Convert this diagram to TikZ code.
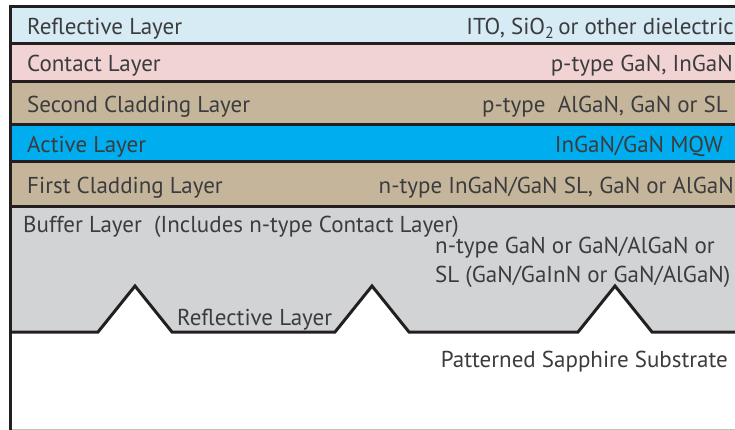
\documentclass[tikz,border=0pt]{standalone}
\usepackage{fontspec}
\setmainfont{PT Sans}
\usetikzlibrary{positioning}
\definecolor{reflectColor}{RGB}{214,235,243}
\definecolor{contactColor}{RGB}{241,211,211}
\definecolor{claddingColor}{RGB}{197,182,155}
\definecolor{activeColor}{RGB}{0,173,238}
\definecolor{bufferColor}{RGB}{210,211,213}
\definecolor{lineColor}{RGB}{35,31,32}
\definecolor{textColor}{RGB}{60,60,62}
\tikzstyle{stack} = [x = 1pt, y = -1pt]
\tikzstyle{layerStyle} = [draw=lineColor, line width=3pt]
\tikzstyle{profileLine} = [draw=lineColor, line width=3pt, line join=miter]
\tikzstyle{layerText} = [font=\fontsize{23}{25}\selectfont, text=textColor, inner sep=0pt]
\newcommand{\peakHalf}{37}
\newcommand{\peakTop}{286}
\newcommand{\baseLine}{332}
\newcommand{\layer}[7]{
  \filldraw [layerStyle, fill=#2] (10,#3) rectangle (760,#4);
  \node [layerText, anchor=base west] (#1Name) at (27,{(#3+#4)/2+9}) {#5};
  \node [layerText, anchor=base east] (#1Type) at (#7,{(#3+#4)/2+9}) {#6};
}

\begin{document}
\begin{tikzpicture}[stack]
  \useasboundingbox (0,0) rectangle (735,430);
  \clip (0,0) rectangle (735,430);

  % buffer and patterned substrate
  \fill [bufferColor] (10,207) rectangle (760,\baseLine);
  \fill [white] (10,\baseLine) foreach \p in {135,372,615} { -- (\p-\peakHalf,\baseLine) -- (\p,\peakTop) -- (\p+\peakHalf,\baseLine) } -- (760,\baseLine) -- (760,430) -- (10,430) -- cycle;
  \draw [profileLine] (10,\baseLine) foreach \p in {135,372,615} { -- (\p-\peakHalf,\baseLine) -- (\p,\peakTop) -- (\p+\peakHalf,\baseLine) } -- (760,\baseLine);
  \draw [black!25] (10,429) -- (735,429);

  \layer{reflective}{reflectColor}{7}{44}{Reflective Layer}{ITO, SiO\textsubscript{2}\,or other dielectric}{734}
  \layer{contact}{contactColor}{44}{82}{Contact Layer}{p-type GaN, InGaN}{733}
  \layer{second}{claddingColor}{82}{125}{Second Cladding Layer}{p-type~ AlGaN, GaN or SL}{728}
  \layer{active}{activeColor}{125}{162}{Active Layer}{InGaN/GaN MQW}{723}
  \layer{first}{claddingColor}{162}{207}{First Cladding Layer}{n-type InGaN/GaN SL, GaN or AlGaN}{734}
  \draw [layerStyle] (10,7) -- (10,430);

  \node [layerText, anchor=base west] (bufferName) at (23,233) {Buffer Layer~ (Includes n-type Contact Layer)};
  \node [layerText, anchor=base west] (bufferType) at (435,253) {n-type GaN or GaN/AlGaN or};
  \node [layerText, anchor=base west] (bufferTypeTwo) at (435,282) {SL (GaN/GaInN or GaN/AlGaN)};
  \node [layerText, anchor=base west] (reflectiveName) at (177,325) {Reflective Layer};
  \node [layerText, anchor=base east] (substrateName) at (728,367) {Patterned Sapphire Substrate};
\end{tikzpicture}
\end{document}
